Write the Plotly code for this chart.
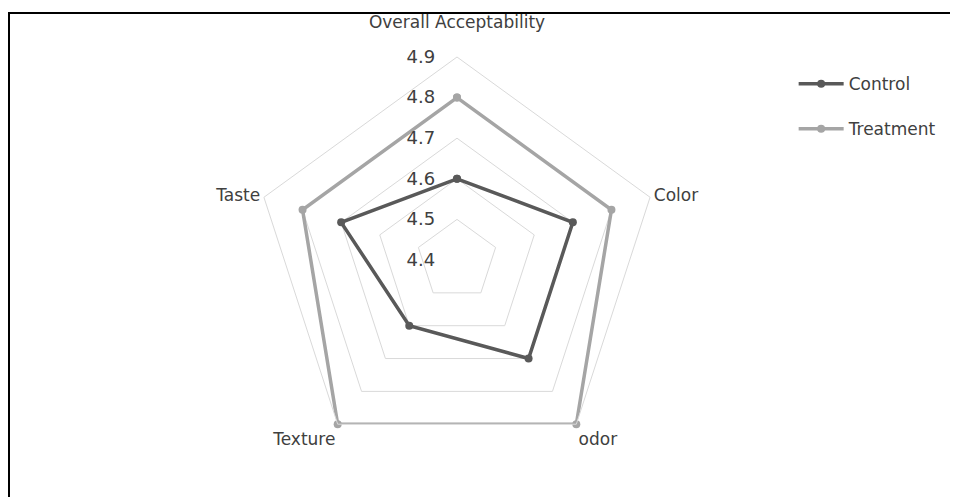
import plotly.graph_objects as go

categories = ["Overall Acceptability", "Color", "odor", "Texture", "Taste"]
category_labels = ["Overall Acceptability<br><span style='font-size:7px'> </span>", "Color", "odor", "Texture", "Taste"]
control = [4.6, 4.7, 4.7, 4.6, 4.7]
treatment = [4.8, 4.8, 4.9, 4.9, 4.8]
radial_ticks = [4.4, 4.5, 4.6, 4.7, 4.8, 4.9]

# page has an 8px body margin; work in figure pixels
W, H = 950, 489
cx, cy, R = 449, 252, 203

fig = go.Figure()
for name, vals, col in [("Control", control, "#595959"), ("Treatment", treatment, "#A5A5A5")]:
    fig.add_trace(go.Scatterpolar(
        r=vals + vals[:1], theta=categories + categories[:1],
        mode="lines+markers", name=name, legendgroup=name,
        line=dict(color=col, width=3.5), marker=dict(color=col, size=8),
    ))

fig.update_layout(
    width=W, height=H,
    margin=dict(l=0, r=0, t=0, b=0),
    paper_bgcolor="white",
    font=dict(family="DejaVu Sans, sans-serif", size=17, color="#404040"),
    polar=dict(
        domain=dict(x=[(cx - R) / W, (cx + R) / W], y=[(H - cy - R) / H, (H - cy + R) / H]),
        bgcolor="white",
        gridshape="linear",
        angularaxis=dict(
            categoryarray=categories, categoryorder="array",
            tickvals=categories, ticktext=category_labels,
            rotation=90, direction="clockwise",
            showgrid=False, showline=True, linecolor="#D9D9D9", linewidth=1,
            ticks="", tickfont=dict(size=17, color="#404040"),
        ),
        radialaxis=dict(
            range=[4.4, 4.9], tickvals=radial_ticks, ticktext=[f"{v:.1f}" for v in radial_ticks],
            angle=90, tickangle=90, side="counterclockwise",
            showline=False, ticks="outside", ticklen=15, tickcolor="rgba(0,0,0,0)",
            gridcolor="#D9D9D9", gridwidth=1,
            tickfont=dict(size=18, color="#404040"),
        ),
    ),
    legend=dict(x=0.827, y=0.881, xanchor="left", yanchor="top",
                font=dict(size=17, color="#404040"), tracegroupgap=20,
                itemwidth=45, bgcolor="rgba(0,0,0,0)"),
    shapes=[dict(type="rect", xref="paper", yref="paper",
                 x0=1 / W, x1=1.05, y0=-0.05, y1=1 - 5 / H,
                 line=dict(color="black", width=2))],
)

fig.write_html("out.html")
